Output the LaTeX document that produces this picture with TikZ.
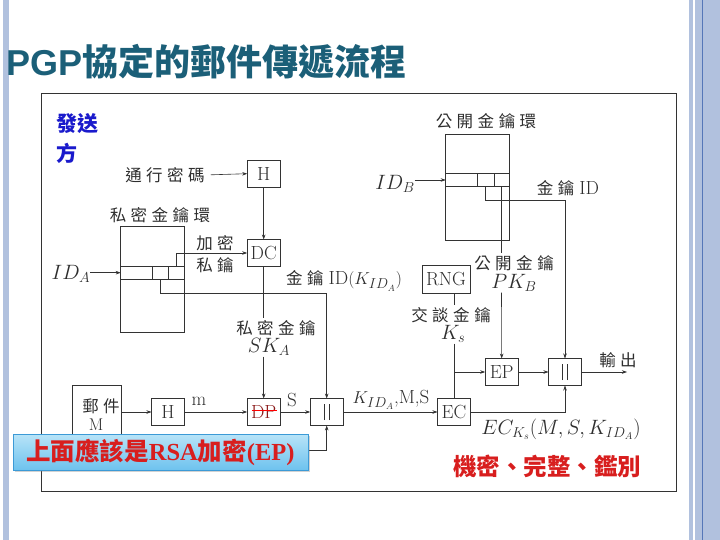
\documentclass[tikz,border=0pt]{standalone}
\usepackage{fontspec}
\usetikzlibrary{arrows.meta,shadows}
\newfontfamily\cjk{Noto Sans CJK TC}
\newfontfamily\tsans{Liberation Sans}
\newfontfamily\tserif{Liberation Serif}
\definecolor{titlecol}{HTML}{1B5F78}
\definecolor{inkc}{HTML}{2E2E2E}
\definecolor{linec}{HTML}{333333}
\definecolor{bandL}{HTML}{B1C1DE}
\definecolor{banddark}{HTML}{5577B8}
\definecolor{redc}{HTML}{D81E1E}
\definecolor{dpred}{HTML}{8B1A1A}
\definecolor{sendc}{HTML}{1A1ACC}
\definecolor{callfillA}{HTML}{B8E4F8}
\definecolor{callfillB}{HTML}{6EC2EE}
\definecolor{calldraw}{HTML}{3C9AD6}
\newcommand\gp{\hspace{4.5pt}}
\newcommand\cjkf{\cjk\fontsize{16.5}{18}\selectfont}
\begin{document}
\begin{tikzpicture}[x=1pt,y=-1pt,
  every node/.style={inner sep=0pt, outer sep=0pt},
  box/.style={draw=linec, line width=0.7pt, minimum width=33pt, minimum height=27pt, text=inkc, font=\fontsize{19}{21}\selectfont},
  zh/.style={text=inkc, font=\cjkf},
  lat/.style={text=inkc, font=\fontsize{19}{21}\selectfont},
  mathl/.style={text=inkc, font=\fontsize{20}{22}\selectfont},
  conn/.style={draw=linec, line width=0.6pt},
  arr/.style={conn, -{Stealth[length=5pt,width=3.5pt]}},
]
\useasboundingbox (0,0) rectangle (720,540);
\fill[white] (0,0) rectangle (720,540);
% side bands
\fill[bandL] (3,0) rectangle (8.5,540);
\fill[bandL] (689,0) rectangle (692.5,540);
\fill[bandL] (695,0) rectangle (720,540);
\draw[banddark, line width=1pt] (702.5,0) -- (702.5,540);
% title
\node[anchor=base west, text=titlecol, font=\bfseries\fontsize{36}{40}\selectfont] (title) at (6,76) {{\tsans\bfseries PGP}{\cjk\bfseries 協定的郵件傳遞流程}};
% frame
\draw[black!80, line width=0.7pt] (41,93) rectangle (676.5,491);
% sender
\node[anchor=west, text=sendc, font=\cjk\bfseries\fontsize{21}{24}\selectfont] (snd1) at (56,124) {發送};
\node[anchor=west, text=sendc, font=\cjk\bfseries\fontsize{21}{24}\selectfont] (snd2) at (56,153) {方};
% public key ring
\draw[conn] (445.7,134) rectangle (509.3,240);
\draw[conn] (445.7,173.3) -- (509.3,173.3) (445.7,186.7) -- (509.3,186.7)
  (477.3,173.3) -- (477.3,186.7) (494,173.3) -- (494,186.7);
\coordinate (pubin) at (445.7,180);
\coordinate (pubc1) at (485.5,186.7);
\coordinate (pubc2) at (501.5,186.7);
\coordinate (pubturn) at (485.5,200);
% private key ring
\draw[conn] (120.7,226.7) rectangle (184.3,332.7);
\draw[conn] (120.7,266) -- (184.3,266) (120.7,279.3) -- (184.3,279.3)
  (152.7,266) -- (152.7,279.3) (168.3,266) -- (168.3,279.3);
\coordinate (privin) at (120.7,272.7);
\coordinate (privk) at (176.3,266);
\coordinate (privd) at (160.5,279.3);
\coordinate (privturn) at (160.5,293.3);
% boxes
\node[box] (htop) at (263.7,173.7) {H};
\node[box] (dc) at (263.7,253) {DC};
\node[box, minimum width=48pt, minimum height=28pt] (rng) at (446,279) {RNG};
\node[box] (hbot) at (168,412) {H};
\node[box, text=dpred] (dp) at (263.7,412) {DP};
\node[box] (c1) at (326.7,412) {};
\node[box] (ec) at (454,412) {EC};
\node[box] (ep) at (501.7,372) {EP};
\node[box] (c2) at (565,372) {};
\node[draw=linec, line width=0.7pt, minimum width=49pt, minimum height=67pt, anchor=north west] (mail) at (72,385) {};
\foreach \n in {c1,c2}{
  \draw[conn] ([xshift=-2.5pt,yshift=-8pt]\n.center) -- ([xshift=-2.5pt,yshift=8pt]\n.center);
  \draw[conn] ([xshift=2.5pt,yshift=-8pt]\n.center) -- ([xshift=2.5pt,yshift=8pt]\n.center);
}
\draw[red, line width=1pt] ([xshift=-12pt,yshift=2pt]dp.center) -- ([xshift=13pt,yshift=2pt]dp.center);
% labels
\node[zh] (pw) at (165,175) {通\gp 行\gp 密\gp 碼};
\node[zh] (privlbl) at (160,215) {私\gp 密\gp 金\gp 鑰\gp 環};
\node[zh] (publbl) at (486,121) {公\gp 開\gp 金\gp 鑰\gp 環};
\node[zh] (enc1) at (215,243) {加\gp 密};
\node[zh] (enc2) at (215,265) {私\gp 鑰};
\node[mathl] (ida) at (71,274) {$ID_A$};
\node[mathl] (idb) at (395,184) {$ID_B$};
\node[lat] (kid) at (568,188) {{\cjkf 金\gp 鑰}\hspace{5pt}ID};
\node[lat] (kida) at (344,281) {{\cjkf 金\gp 鑰}\hspace{5pt}ID$(K_{ID_A})$};
\node[zh] (pkz) at (514,263) {公\gp 開\gp 金\gp 鑰};
\node[mathl] (pkb) at (514,283) {$PK_B$};
\node[zh] (skz) at (276,328) {私\gp 密\gp 金\gp 鑰};
\node[mathl] (ska) at (269,347) {$SK_A$};
\node[zh] (ksz) at (451,315) {交\gp 談\gp 金\gp 鑰};
\node[mathl] (ks) at (453,334) {$K_s$};
\node[zh] (outl) at (618,360) {輸\gp 出};
\node[lat] (kms) at (391,400) {$K_{ID_A}$,M,S};
\node[mathl] (eck) at (561,429) {$EC_{K_s}(M,S,K_{ID_A})$};
\node[lat] (ml) at (199,401) {m};
\node[lat] (sl) at (292,400) {S};
\node[zh] (mailz) at (101,406) {郵\gp 件};
\node[text=inkc, font=\fontsize{17}{19}\selectfont] (mailm) at (96,425) {M};
\coordinate (mailout) at (121,450);
\coordinate (outc) at (627,372);
% connectors
\draw[arr, shorten <=6pt] (pw.east) -- (htop.west);
\draw[arr] (htop) -- (dc);
\draw[arr] (ida.east |- privin) -- (privin);
\draw[arr] (privk) |- (dc.west);
\draw[arr] (privd) -- (privturn) -| (c1.north);
\draw[conn] (dc.south) -- ([yshift=2pt]skz.north -| dc.south);
\draw[arr] ([yshift=-1pt]ska.south -| dc.south) -- (dp.north);
\draw[arr] (mail.east |- hbot.west) -- (hbot.west);
\draw[arr] (hbot) -- (dp);
\draw[arr] (dp) -- (c1);
\draw[arr] (mailout) -| (c1.south);
\draw[arr] (c1) -- (ec);
\draw[arr] (idb.east |- pubin) -- (pubin);
\draw[arr] (pubc1) -- (pubturn) -| (c2.north);
\draw[conn] (pubc2) -- ([yshift=2pt]pkz.north -| pubc2);
\draw[arr] ([yshift=-1pt]pkb.south -| pubc2) -- (ep.north);
\draw[conn] (rng.south -| ec.north) -- ([yshift=2pt]ksz.north -| ec.north);
\draw[conn] ([yshift=-1pt]ks.south -| ec.north) -- (ec.north);
\draw[arr] (ec.north |- ep.west) -- (ep.west);
\draw[arr] (ep) -- (c2);
\draw[arr] (c2.east) -- (outc);
\draw[arr] (ec.east) -| (c2.south);
% callout
\node[draw=calldraw, line width=0.8pt, top color=callfillA, bottom color=callfillB,
  drop shadow={opacity=0.35, shadow xshift=2pt, shadow yshift=-2pt},
  minimum width=295pt, minimum height=36pt, anchor=north west, text=redc,
  font=\fontsize{24.5}{27}\selectfont] (note) at (13,434)
  {{\cjk\bfseries 上面應該是}{\tserif\bfseries RSA}{\cjk\bfseries 加密}{\tserif\bfseries (EP)}};
\node[text=redc, font=\cjk\bfseries\fontsize{23.5}{26}\selectfont] (conf) at (547,466) {機密、完整、鑑別};
\end{tikzpicture}
\end{document}
